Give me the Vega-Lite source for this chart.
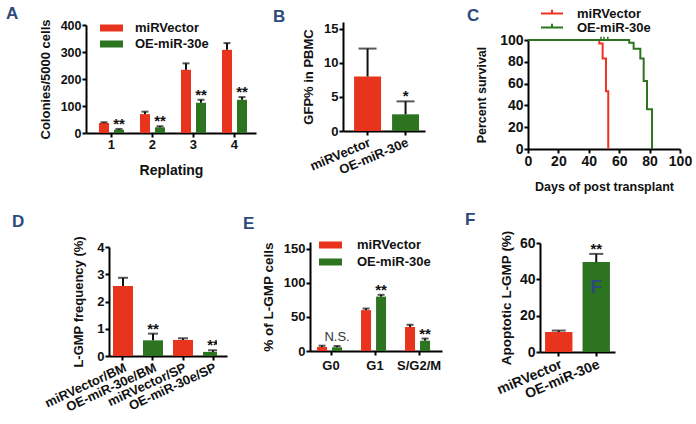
{
  "$schema": "https://vega.github.io/schema/vega-lite/v6.json",
  "autosize": {"type": "none"},
  "padding": {"left": 86, "top": 22, "right": 610, "bottom": 402},
  "background": "white",
  "columns": 3,
  "spacing": {"row": 93, "column": 0},
  "bounds": "flush",
  "align": "each",
  "resolve": {"scale": {"color": "independent"}, "legend": {"color": "independent"}},
  "datasets": {
    "A": [
      {"rep": "1", "group": "miRVector", "mean": 37, "err": 40, "sig": ""},
      {"rep": "1", "group": "OE-miR-30e", "mean": 12, "err": 15, "sig": "**"},
      {"rep": "2", "group": "miRVector", "mean": 70, "err": 79, "sig": ""},
      {"rep": "2", "group": "OE-miR-30e", "mean": 21, "err": 25, "sig": "**"},
      {"rep": "3", "group": "miRVector", "mean": 234, "err": 258, "sig": ""},
      {"rep": "3", "group": "OE-miR-30e", "mean": 112, "err": 123, "sig": "**"},
      {"rep": "4", "group": "miRVector", "mean": 308, "err": 333, "sig": ""},
      {"rep": "4", "group": "OE-miR-30e", "mean": 123, "err": 133, "sig": "**"}
    ],
    "B": [
      {"cat": "miRVector", "group": "miRVector", "mean": 8.0, "err": 12.1, "sig": ""},
      {"cat": "OE-miR-30e", "group": "OE-miR-30e", "mean": 2.45, "err": 4.35, "sig": "*"}
    ],
    "C": [
      {"group": "miRVector", "day": 0, "pct": 100},
      {"group": "miRVector", "day": 46.9, "pct": 96.9},
      {"group": "miRVector", "day": 49.1, "pct": 83},
      {"group": "miRVector", "day": 51.3, "pct": 53},
      {"group": "miRVector", "day": 52.8, "pct": 0},
      {"group": "OE-miR-30e", "day": 0, "pct": 100},
      {"group": "OE-miR-30e", "day": 66.6, "pct": 97.5},
      {"group": "OE-miR-30e", "day": 69.5, "pct": 92},
      {"group": "OE-miR-30e", "day": 73.9, "pct": 83},
      {"group": "OE-miR-30e", "day": 76.1, "pct": 62.3},
      {"group": "OE-miR-30e", "day": 78.3, "pct": 36.5},
      {"group": "OE-miR-30e", "day": 81.6, "pct": 0}
    ],
    "Ccens": [
      {"day": 48, "lo": 100, "hi": 103},
      {"day": 50, "lo": 100, "hi": 103},
      {"day": 52.5, "lo": 100, "hi": 103}
    ],
    "D": [
      {"cat": "miRVector/BM", "group": "miRVector", "mean": 2.57, "err": 2.87, "sig": ""},
      {"cat": "OE-miR-30e/BM", "group": "OE-miR-30e", "mean": 0.575, "err": 0.82, "sig": "**"},
      {"cat": "miRVector/SP", "group": "miRVector", "mean": 0.59, "err": 0.65, "sig": ""},
      {"cat": "OE-miR-30e/SP", "group": "OE-miR-30e", "mean": 0.15, "err": 0.21, "sig": "**"}
    ],
    "E": [
      {"phase": "G0", "group": "miRVector", "mean": 5.9, "err": 7.8, "sig": ""},
      {"phase": "G0", "group": "OE-miR-30e", "mean": 5.5, "err": 7.3, "sig": "N.S."},
      {"phase": "G1", "group": "miRVector", "mean": 60, "err": 62.3, "sig": ""},
      {"phase": "G1", "group": "OE-miR-30e", "mean": 79.8, "err": 82.5, "sig": "**"},
      {"phase": "S/G2/M", "group": "miRVector", "mean": 35.3, "err": 38.5, "sig": ""},
      {"phase": "S/G2/M", "group": "OE-miR-30e", "mean": 15.1, "err": 18.3, "sig": "**"}
    ],
    "F": [
      {"cat": "miRVector", "group": "miRVector", "mean": 11, "err": 11.8, "sig": ""},
      {"cat": "OE-miR-30e", "group": "OE-miR-30e", "mean": 49.5, "err": 54, "sig": "**"}
    ],
    "Flabel": [
      {"cat": "OE-miR-30e", "v": 32.5, "t": "F"}
    ]
  },
  "concat": [
    {
      "width": 224, "height": 111,
      "title": {"text": "A", "dx": -80, "dy": 8},
      "data": {"name": "A"},
      "encoding": {
        "x": {"field": "rep", "type": "nominal", "scale": {"range": [0, 170], "paddingInner": 0.39, "paddingOuter": 0.268, "align": 0.59},
              "axis": {"title": "Replating", "labelAngle": 0, "titleFontSize": 14, "titlePadding": 12, "labelFontSize": 13, "labelOverlap": false}},
        "xOffset": {"field": "group", "type": "nominal", "sort": ["miRVector", "OE-miR-30e"], "scale": {"paddingInner": 0.333, "paddingOuter": 0}}
      },
      "layer": [
        {"mark": {"type": "bar"},
         "encoding": {
           "y": {"field": "mean", "type": "quantitative", "title": "Colonies/5000 cells", "scale": {"domain": [0, 400], "range": [111, 3]}, "axis": {"values": [0, 100, 200, 300, 400], "labelFontSize": 12.5, "labelOverlap": false}},
           "color": {"field": "group", "type": "nominal", "sort": ["miRVector", "OE-miR-30e"], "scale": {"domain": ["miRVector", "OE-miR-30e"], "range": ["#e8341c", "#2d7420"]},
                     "legend": {"title": null, "orient": "none", "legendX": 14, "legendY": 0, "padding": 0, "clipHeight": 12, "symbolType": "M-1,-0.3H1V0.3H-1Z", "symbolSize": 529, "symbolStrokeWidth": 0, "labelOffset": 12, "rowPadding": 3, "labelFontSize": 13}}
         }},
        {"mark": {"type": "rule", "color": "#111", "strokeWidth": 2},
         "encoding": {"y": {"field": "mean", "type": "quantitative", "title": "Colonies/5000 cells", "axis": {"values": [0, 100, 200, 300, 400], "labelFontSize": 12.5, "labelOverlap": false}}, "y2": {"field": "err"}}},
        {"mark": {"type": "tick", "orient": "horizontal", "color": "#111", "thickness": 2, "size": 7},
         "encoding": {"y": {"field": "err", "type": "quantitative", "title": "Colonies/5000 cells", "axis": {"values": [0, 100, 200, 300, 400], "labelFontSize": 12.5, "labelOverlap": false}}}},
        {"mark": {"type": "text", "font": "Liberation Sans", "fontSize": 15, "fontWeight": "bold", "baseline": "alphabetic", "dy": 0, "color": "#111"},
         "encoding": {"y": {"field": "err", "type": "quantitative", "title": "Colonies/5000 cells", "axis": {"values": [0, 100, 200, 300, 400], "labelFontSize": 12.5, "labelOverlap": false}}, "text": {"field": "sig"}}}
      ]
    },
    {
      "width": 218, "height": 109,
      "title": {"text": "B", "dx": -37, "dy": 8},
      "data": {"name": "B"},
      "encoding": {
        "x": {"field": "cat", "type": "nominal", "sort": ["miRVector", "OE-miR-30e"], "scale": {"range": [33, 115], "paddingInner": 0.29, "paddingOuter": 0.224, "align": 0.65},
              "axis": {"title": null, "labelAngle": -23, "labelFontSize": 13, "labelOverlap": false}}
      },
      "layer": [
        {"mark": {"type": "bar"},
         "encoding": {
           "y": {"field": "mean", "type": "quantitative", "title": "GFP% in PBMC", "scale": {"domain": [0, 15]}, "axis": {"values": [0, 5, 10, 15], "offset": -33, "labelOverlap": false}},
           "color": {"field": "group", "type": "nominal", "scale": {"domain": ["miRVector", "OE-miR-30e"], "range": ["#e8341c", "#2d7420"]}, "legend": null}
         }},
        {"mark": {"type": "rule", "color": "#111", "strokeWidth": 2},
         "encoding": {"y": {"field": "mean", "type": "quantitative", "title": "GFP% in PBMC", "axis": {"values": [0, 5, 10, 15], "offset": -33, "labelOverlap": false}}, "y2": {"field": "err"}}},
        {"mark": {"type": "tick", "orient": "horizontal", "color": "#111", "thickness": 2, "size": 18},
         "encoding": {"y": {"field": "err", "type": "quantitative", "title": "GFP% in PBMC", "axis": {"values": [0, 5, 10, 15], "offset": -33, "labelOverlap": false}}}},
        {"mark": {"type": "text", "font": "Liberation Sans", "fontSize": 15, "fontWeight": "bold", "baseline": "alphabetic", "dy": 0, "color": "#111"},
         "encoding": {"y": {"field": "err", "type": "quantitative", "title": "GFP% in PBMC", "axis": {"values": [0, 5, 10, 15], "offset": -33, "labelOverlap": false}}, "text": {"field": "sig"}}}
      ]
    },
    {
      "width": 160, "height": 127,
      "title": {"text": "C", "dx": -61, "dy": 20},
      "layer": [
        {"data": {"name": "C"},
         "mark": {"type": "line", "interpolate": "step-after", "strokeWidth": 2},
         "encoding": {
           "x": {"field": "day", "type": "quantitative", "title": "Days of post transplant", "scale": {"domain": [0, 100], "range": [0, 152]}, "axis": {"values": [0, 20, 40, 60, 80, 100], "labelFontSize": 14, "titleFontSize": 12.5, "titlePadding": 12, "labelOverlap": false, "labelFlush": false}},
           "y": {"field": "pct", "type": "quantitative", "title": "Percent survival", "scale": {"domain": [0, 100], "range": [127, 18]}, "axis": {"values": [0, 20, 40, 60, 80, 100], "labelFontSize": 14, "titleFontSize": 12.5, "titlePadding": 11, "labelOverlap": false}},
           "color": {"field": "group", "type": "nominal", "sort": ["miRVector", "OE-miR-30e"], "scale": {"domain": ["miRVector", "OE-miR-30e"], "range": ["#ee3322", "#2d7420"]},
                     "legend": {"title": null, "orient": "none", "legendX": 12, "legendY": -13, "padding": 0, "clipHeight": 9, "symbolType": "M-1,0H1M0,0V-0.35", "symbolSize": 484, "symbolStrokeWidth": 2, "labelOffset": 13, "rowPadding": 0, "labelFontSize": 13}}
         }},
        {"data": {"name": "Ccens"},
         "mark": {"type": "rule", "color": "#2d7420", "strokeWidth": 1.5},
         "encoding": {
           "x": {"field": "day", "type": "quantitative", "title": "Days of post transplant", "axis": {"values": [0, 20, 40, 60, 80, 100], "labelFontSize": 14, "titleFontSize": 12.5, "titlePadding": 12, "labelOverlap": false, "labelFlush": false}},
           "y": {"field": "lo", "type": "quantitative", "title": "Percent survival", "axis": {"values": [0, 20, 40, 60, 80, 100], "labelFontSize": 14, "titleFontSize": 12.5, "titlePadding": 11, "labelOverlap": false}},
           "y2": {"field": "hi"}
         }}
      ]
    },
    {
      "width": 131, "height": 114,
      "title": {"text": "D", "dx": -74, "dy": -1},
      "data": {"name": "D"},
      "encoding": {
        "x": {"field": "cat", "type": "nominal", "sort": ["miRVector/BM", "OE-miR-30e/BM", "miRVector/SP", "OE-miR-30e/SP"], "scale": {"range": [23, 141], "paddingInner": 0.333, "paddingOuter": 0.133},
              "axis": {"title": null, "labelAngle": -25, "labelFontSize": 13, "labelOverlap": false}},
        "y": {"field": "mean", "type": "quantitative", "title": "L-GMP frequency (%)", "scale": {"domain": [0, 4], "range": [114, 5]}, "axis": {"values": [0, 1, 2, 3, 4], "offset": -23, "titlePadding": 11, "labelOverlap": false}}
      },
      "layer": [
        {"mark": {"type": "bar", "clip": true},
         "encoding": {
           "color": {"field": "group", "type": "nominal", "scale": {"domain": ["miRVector", "OE-miR-30e"], "range": ["#e8341c", "#2d7420"]}, "legend": null}
         }},
        {"mark": {"type": "rule", "color": "#111", "strokeWidth": 2, "clip": true},
         "encoding": {"y2": {"field": "err"}}},
        {"mark": {"type": "tick", "orient": "horizontal", "color": "#111", "thickness": 2, "size": 10, "clip": true},
         "encoding": {"y": {"field": "err", "type": "quantitative", "title": "L-GMP frequency (%)", "scale": {"domain": [0, 4], "range": [114, 5]}, "axis": {"values": [0, 1, 2, 3, 4], "offset": -23, "titlePadding": 11, "labelOverlap": false}}}},
        {"mark": {"type": "text", "font": "Liberation Sans", "fontSize": 15, "fontWeight": "bold", "baseline": "alphabetic", "dy": 0, "color": "#111", "clip": true},
         "encoding": {"y": {"field": "err", "type": "quantitative", "title": "L-GMP frequency (%)", "scale": {"domain": [0, 4], "range": [114, 5]}, "axis": {"values": [0, 1, 2, 3, 4], "offset": -23, "titlePadding": 11, "labelOverlap": false}}, "text": {"field": "sig"}}}
      ]
    },
    {
      "width": 218, "height": 109,
      "title": {"text": "E", "dx": -67, "dy": -2},
      "data": {"name": "E"},
      "encoding": {
        "x": {"field": "phase", "type": "nominal", "sort": ["G0", "G1", "S/G2/M"], "scale": {"range": [0, 132], "paddingInner": 0.364, "paddingOuter": 0.182, "align": 0.44},
              "axis": {"title": null, "labelAngle": 0, "labelFontSize": 13, "labelPadding": 4, "labelOverlap": false}},
        "xOffset": {"field": "group", "type": "nominal", "sort": ["miRVector", "OE-miR-30e"], "scale": {"paddingInner": 0.3, "paddingOuter": 0}}
      },
      "layer": [
        {"mark": {"type": "bar"},
         "encoding": {
           "y": {"field": "mean", "type": "quantitative", "title": "% of L-GMP cells", "scale": {"domain": [0, 150]}, "axis": {"values": [0, 50, 100, 150], "titleFontSize": 13.5, "labelOverlap": false}},
           "color": {"field": "group", "type": "nominal", "sort": ["miRVector", "OE-miR-30e"], "scale": {"domain": ["miRVector", "OE-miR-30e"], "range": ["#e8341c", "#2d7420"]},
                     "legend": {"title": null, "orient": "none", "legendX": 9, "legendY": -3, "padding": 0, "clipHeight": 12, "symbolType": "M-1,-0.3H1V0.3H-1Z", "symbolSize": 529, "symbolStrokeWidth": 0, "labelOffset": 15, "rowPadding": 4, "labelFontSize": 13}}
         }},
        {"mark": {"type": "rule", "color": "#111", "strokeWidth": 2},
         "encoding": {"y": {"field": "mean", "type": "quantitative", "title": "% of L-GMP cells", "axis": {"values": [0, 50, 100, 150], "titleFontSize": 13.5, "labelOverlap": false}}, "y2": {"field": "err"}}},
        {"mark": {"type": "tick", "orient": "horizontal", "color": "#111", "thickness": 2, "size": 7},
         "encoding": {"y": {"field": "err", "type": "quantitative", "title": "% of L-GMP cells", "axis": {"values": [0, 50, 100, 150], "titleFontSize": 13.5, "labelOverlap": false}}}},
        {"transform": [{"filter": "datum.sig == '**'"}],
         "mark": {"type": "text", "font": "Liberation Sans", "fontSize": 15, "fontWeight": "bold", "baseline": "alphabetic", "dy": 0, "color": "#111"},
         "encoding": {"y": {"field": "err", "type": "quantitative", "title": "% of L-GMP cells", "axis": {"values": [0, 50, 100, 150], "titleFontSize": 13.5, "labelOverlap": false}}, "text": {"field": "sig"}}},
        {"transform": [{"filter": "datum.sig == 'N.S.'"}],
         "mark": {"type": "text", "font": "Liberation Sans", "fontSize": 13, "fontWeight": "normal", "baseline": "alphabetic", "dy": -5, "color": "#333"},
         "encoding": {"y": {"field": "err", "type": "quantitative", "title": "% of L-GMP cells", "axis": {"values": [0, 50, 100, 150], "titleFontSize": 13.5, "labelOverlap": false}}, "text": {"field": "sig"}}}
      ]
    },
    {
      "width": 160, "height": 110,
      "title": {"text": "F", "dx": -63, "dy": 3},
      "encoding": {
        "x": {"field": "cat", "type": "nominal", "sort": ["miRVector", "OE-miR-30e"], "scale": {"range": [12, 87], "paddingInner": 0.27, "paddingOuter": 0.135},
              "axis": {"title": null, "labelAngle": -23, "labelFontSize": 14, "labelOverlap": false}}
      },
      "layer": [
        {"data": {"name": "F"},
         "mark": {"type": "bar"},
         "encoding": {
           "y": {"field": "mean", "type": "quantitative", "title": "Apoptotic L-GMP (%)", "scale": {"domain": [0, 60], "range": [110, 1]}, "axis": {"values": [0, 20, 40, 60], "offset": -12, "labelFontSize": 14, "titleFontSize": 13.5, "titlePadding": 6, "labelOverlap": false}},
           "color": {"field": "group", "type": "nominal", "scale": {"domain": ["miRVector", "OE-miR-30e"], "range": ["#e8341c", "#2d7420"]}, "legend": null}
         }},
        {"data": {"name": "F"},
         "mark": {"type": "rule", "color": "#111", "strokeWidth": 2},
         "encoding": {"y": {"field": "mean", "type": "quantitative", "title": "Apoptotic L-GMP (%)", "axis": {"values": [0, 20, 40, 60], "offset": -12, "labelFontSize": 14, "titleFontSize": 13.5, "titlePadding": 6, "labelOverlap": false}}, "y2": {"field": "err"}}},
        {"data": {"name": "F"},
         "mark": {"type": "tick", "orient": "horizontal", "color": "#111", "thickness": 2, "size": 14},
         "encoding": {"y": {"field": "err", "type": "quantitative", "title": "Apoptotic L-GMP (%)", "axis": {"values": [0, 20, 40, 60], "offset": -12, "labelFontSize": 14, "titleFontSize": 13.5, "titlePadding": 6, "labelOverlap": false}}}},
        {"data": {"name": "F"},
         "mark": {"type": "text", "font": "Liberation Sans", "fontSize": 15, "fontWeight": "bold", "baseline": "alphabetic", "dy": 0, "color": "#111"},
         "encoding": {"y": {"field": "err", "type": "quantitative", "title": "Apoptotic L-GMP (%)", "axis": {"values": [0, 20, 40, 60], "offset": -12, "labelFontSize": 14, "titleFontSize": 13.5, "titlePadding": 6, "labelOverlap": false}}, "text": {"field": "sig"}}},
        {"data": {"name": "Flabel"},
         "mark": {"type": "text", "font": "Liberation Sans", "fontSize": 19, "fontWeight": "bold", "baseline": "alphabetic", "color": "#2c4a7c"},
         "encoding": {"y": {"field": "v", "type": "quantitative", "title": "Apoptotic L-GMP (%)", "axis": {"values": [0, 20, 40, 60], "offset": -12, "labelFontSize": 14, "titleFontSize": 13.5, "titlePadding": 6, "labelOverlap": false}}, "text": {"field": "t"}}}
      ]
    }
  ],
  "config": {
    "view": {"stroke": null},
    "font": "Liberation Sans",
    "axis": {"domainColor": "#000", "domainWidth": 2, "tickColor": "#000", "tickWidth": 2, "tickSize": 4, "labelFont": "Liberation Sans", "labelFontWeight": "bold", "labelFontSize": 13, "labelColor": "#111", "labelPadding": 1, "labelOverlap": false, "labelFlush": false, "titleFont": "Liberation Sans", "titleFontWeight": "bold", "titleFontSize": 13, "titleColor": "#111", "grid": false, "titlePadding": 8},
    "legend": {"labelFont": "Liberation Sans", "labelFontWeight": "bold", "labelFontSize": 13, "labelColor": "#111"},
    "title": {"font": "Liberation Sans", "fontSize": 17, "fontWeight": "bold", "color": "#2c4a7c", "anchor": "start", "frame": "group", "baseline": "alphabetic", "offset": 0}
  }
}
